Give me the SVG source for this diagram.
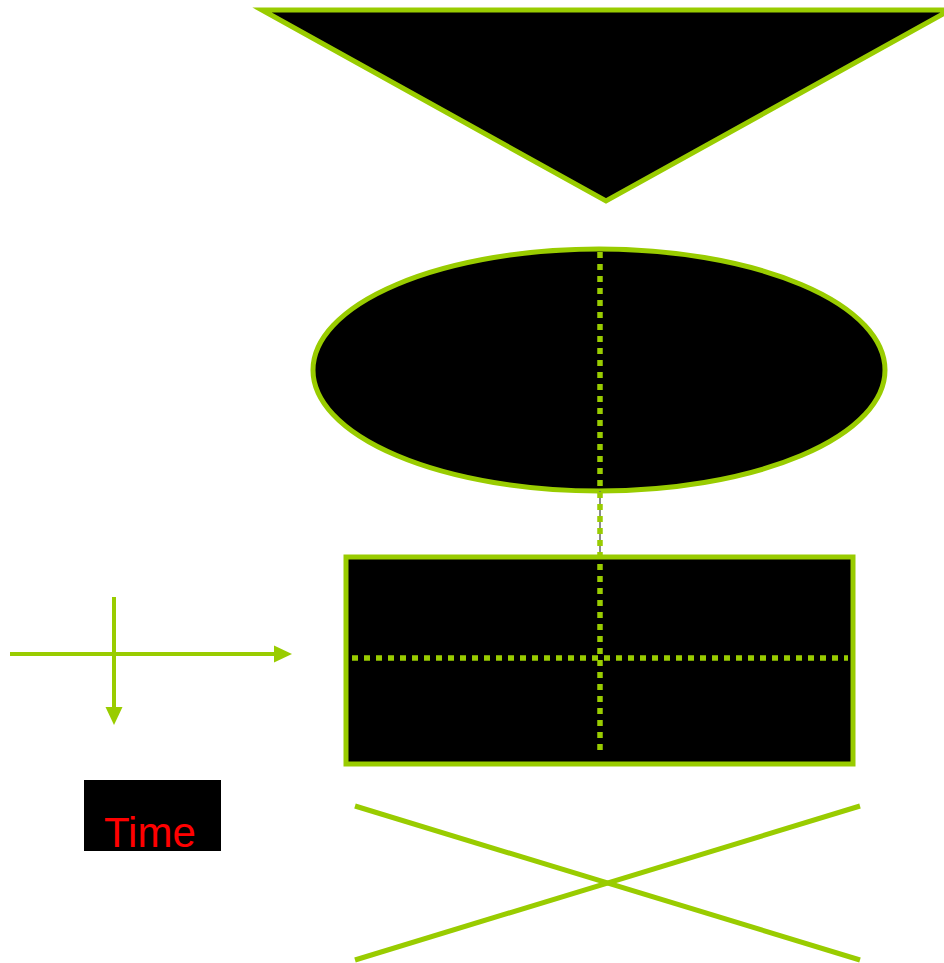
<svg xmlns="http://www.w3.org/2000/svg" width="944" height="963" viewBox="0 0 944 963">
<style>
.sh{fill:#000;stroke:#99cc00;stroke-width:5}
.ln{fill:none;stroke:#99cc00;stroke-width:5}
.dot{fill:none;stroke:#99cc00;stroke-width:5.5;stroke-dasharray:6 6}
.ar{fill:none;stroke:#99cc00;stroke-width:4}
</style>
<defs>
<marker id="ah" markerWidth="18" markerHeight="18" refX="2" refY="9" orient="auto" markerUnits="userSpaceOnUse">
<path d="M0,0.5 L18,9 L0,17.5 Z" fill="#99cc00"/>
</marker>
</defs>
<g id="triangle"><polygon class="sh" points="262,10 950,10 606,201"/></g>
<g id="ellipse"><ellipse class="sh" cx="599" cy="370" rx="286" ry="121"/></g>
<g id="rect"><rect class="sh" x="346" y="557" width="507" height="207"/></g>
<g id="cross"><line class="ln" x1="355" y1="806" x2="860" y2="960"/><line class="ln" x1="355" y1="960" x2="860" y2="806"/></g>
<g id="time"><rect x="84" y="780" width="137" height="71" fill="#000"/><text x="104" y="847" font-family="Liberation Sans, Arial, sans-serif" font-size="42" fill="#ff0000">Time</text></g>
<g id="connectors">
<line x1="600" y1="491" x2="600" y2="557" stroke="#666" stroke-width="1.5"/>
<line class="dot" x1="600" y1="252" x2="600" y2="756"/>
<line class="dot" x1="352" y1="658" x2="848" y2="658"/>
<line class="ar" x1="10" y1="654" x2="276" y2="654" marker-end="url(#ah)"/>
<line class="ar" x1="114" y1="597" x2="114" y2="709" marker-end="url(#ah)"/>
</g>
</svg>
